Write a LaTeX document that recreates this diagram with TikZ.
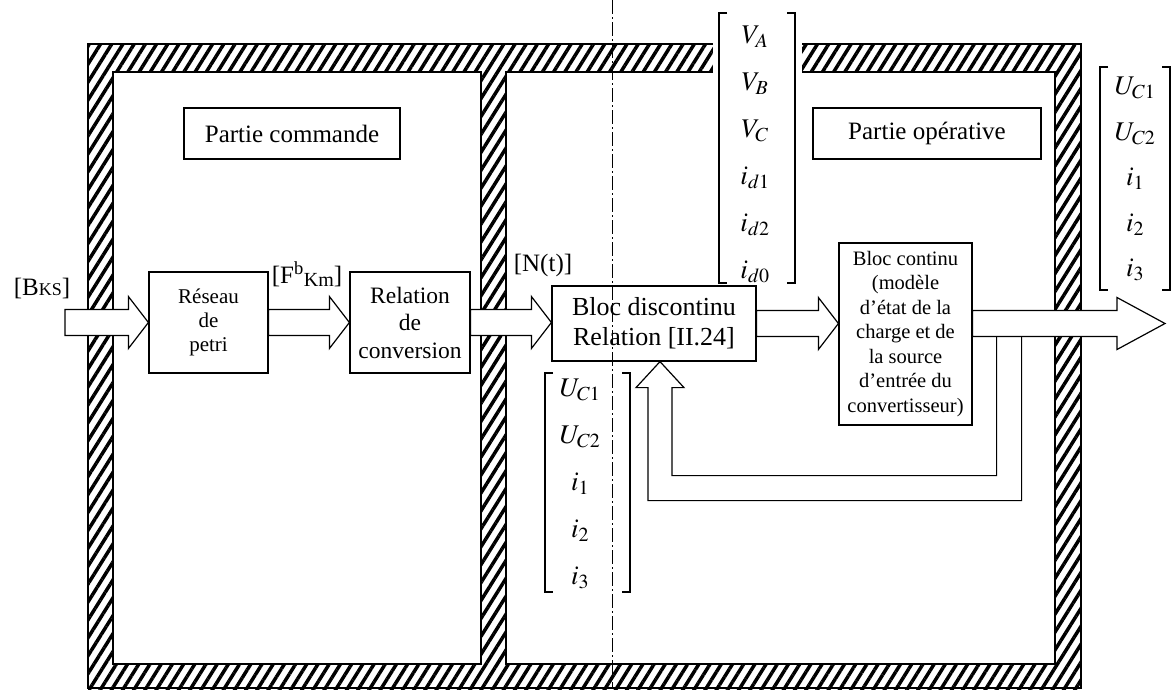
\documentclass[tikz,border=0pt]{standalone}
\usepackage{mathptmx}
\usepackage{fontspec}
\setmainfont{Liberation Serif}
\usetikzlibrary{calc,patterns.meta}

\tikzset{
    cadre/.style={draw, line width=1.2pt, fill=white, inner sep=0pt, align=center},
    fleche/.style={draw, fill=white, line width=1.2pt, line join=miter},
    mur/.style={pattern={Lines[angle=58,distance=9.5pt,line width=3.5pt]}},
    lbl/.style={inner sep=0pt, font=\fontsize{25}{30}\selectfont},
    composante/.style={inner sep=0pt, font=\fontsize{27}{30}\selectfont},
}
% grosse fleche creuse : depart, arrivee, longueur de la tete
\newcommand{\grossefleche}[3]{%
    \filldraw[fleche] let \p1=#1, \p2=#2 in
        (\x1,\y1+13pt) -- (\x2-#3,\y1+13pt) -- (\x2-#3,\y1+26pt) -- (\x2,\y1)
        -- (\x2-#3,\y1-26pt) -- (\x2-#3,\y1-13pt) -- (\x1,\y1-13pt) -- cycle;}
% crochets d'un vecteur : x gauche, x droit, y haut, y bas
\newcommand{\crochets}[4]{%
    \draw[line width=1.2pt] (#1+8,#3) -- (#1,#3) -- (#1,#4) -- (#1+8,#4);
    \draw[line width=1.2pt] (#2-8,#3) -- (#2,#3) -- (#2,#4) -- (#2-8,#4);}

\begin{document}
\begin{tikzpicture}[x=1pt,y=-1pt]
    \useasboundingbox (0,0) rectangle (1173,689);

    % murs hachures
    \fill[mur] (88,44) rectangle (1081,689);
    \draw[line width=1.2pt] (88,44) rectangle (1081,688);
    \filldraw[fill=white, line width=1.2pt] (113,72) rectangle (481,664);
    \filldraw[fill=white, line width=1.2pt] (506,72) rectangle (1055,664);
    \fill[white] (713,40) rectangle (802,73.5);

    % titres
    \node[cadre, minimum width=216pt, minimum height=51pt, font=\fontsize{25}{30}\selectfont] (pc) at (292,133.5) {Partie commande};
    \node[cadre, minimum width=228pt, minimum height=51pt, font=\fontsize{25}{30}\selectfont] (po) at (927,133.5) {Partie opérative};

    % blocs
    \node[cadre, minimum width=119pt, minimum height=101pt, font=\fontsize{21}{24}\selectfont] (rp) at (208.5,322.5) {Réseau\\de\\petri};
    \node[cadre, minimum width=120pt, minimum height=101pt, font=\fontsize{23.5}{27.5}\selectfont] (rc) at (410,322.5) {Relation\\de\\conversion};
    \node[cadre, minimum width=204pt, minimum height=75pt, font=\fontsize{26}{30}\selectfont] (bd) at (654,323.5) {Bloc discontinu\\Relation [II.24]};
    \node[cadre, minimum width=133pt, minimum height=182pt, font=\fontsize{20.5}{24.5}\selectfont] (bc) at (905.5,334)
        {Bloc continu\\(modèle\\d’état de la\\charge et de\\la source\\d’entrée du\\convertisseur)};

    % fleches
    \coordinate (in) at (65,322.5);
    \coordinate (out) at (1165,323.5);
    \grossefleche{(in)}{(rp.west)}{20pt}
    \grossefleche{(rp.east)}{(rc.west)}{20pt}
    \grossefleche{(rc.east)}{(bd.west)}{20pt}
    \grossefleche{(bd.east)}{(bc.west)}{20pt}
    \grossefleche{(bc.east |- bd.east)}{(out)}{48pt}

    % retour
    \coordinate (fb1) at ($(bc.east |- bd.east)+(24,13)$);
    \coordinate (fb2) at ($(bc.east |- bd.east)+(49,13)$);
    \coordinate (tip) at ([xshift=6pt]bd.south);
    \draw[fleche, fill=none] (fb2) |- ($(tip)+(-12,139)$) -- ($(tip)+(-12,26)$) -- ($(tip)+(-24,26)$) -- (tip)
        -- ($(tip)+(24,26)$) -- ($(tip)+(12,26)$) -- ($(tip)+(12,114)$) -| (fb1);

    % vecteurs
    \foreach \e [count=\k] in {V_A,V_B,V_C,i_{d1},i_{d2},i_{d0}}
        \node[composante] (vs\k) at (755,{37+47*(\k-1)}) {$\e$};
    \crochets{719}{795}{13}{283}
    \foreach \e [count=\k] in {U_{C1},U_{C2},i_1,i_2,i_3}
        \node[composante] (ub\k) at (580,{390+47*(\k-1)}) {$\e$};
    \crochets{545}{630}{373}{592}
    \foreach \e [count=\k] in {U_{C1},U_{C2},i_1,i_2,i_3}
        \node[composante] (ur\k) at (1135,{88+45.5*(\k-1)}) {$\e$};
    \crochets{1100}{1170}{67}{290}

    % etiquettes
    \node[lbl] (bks) at (42,288) {[B{\fontsize{18}{18}\selectfont KS}]};
    \node[lbl] (fkm) at (307,274) {[F\textsuperscript{b}\raisebox{-3pt}{\fontsize{20}{20}\selectfont Km}]};
    \node[lbl] (nt) at (543,265) {[N(t)]};

    % trait mixte
    \coordinate (p1) at (612,0);
    \coordinate (p2) at (612,689);
    \draw[line width=0.6pt, dash pattern=on 14pt off 3pt on 2pt off 3pt] (p1) -- (p2);
\end{tikzpicture}
\end{document}
